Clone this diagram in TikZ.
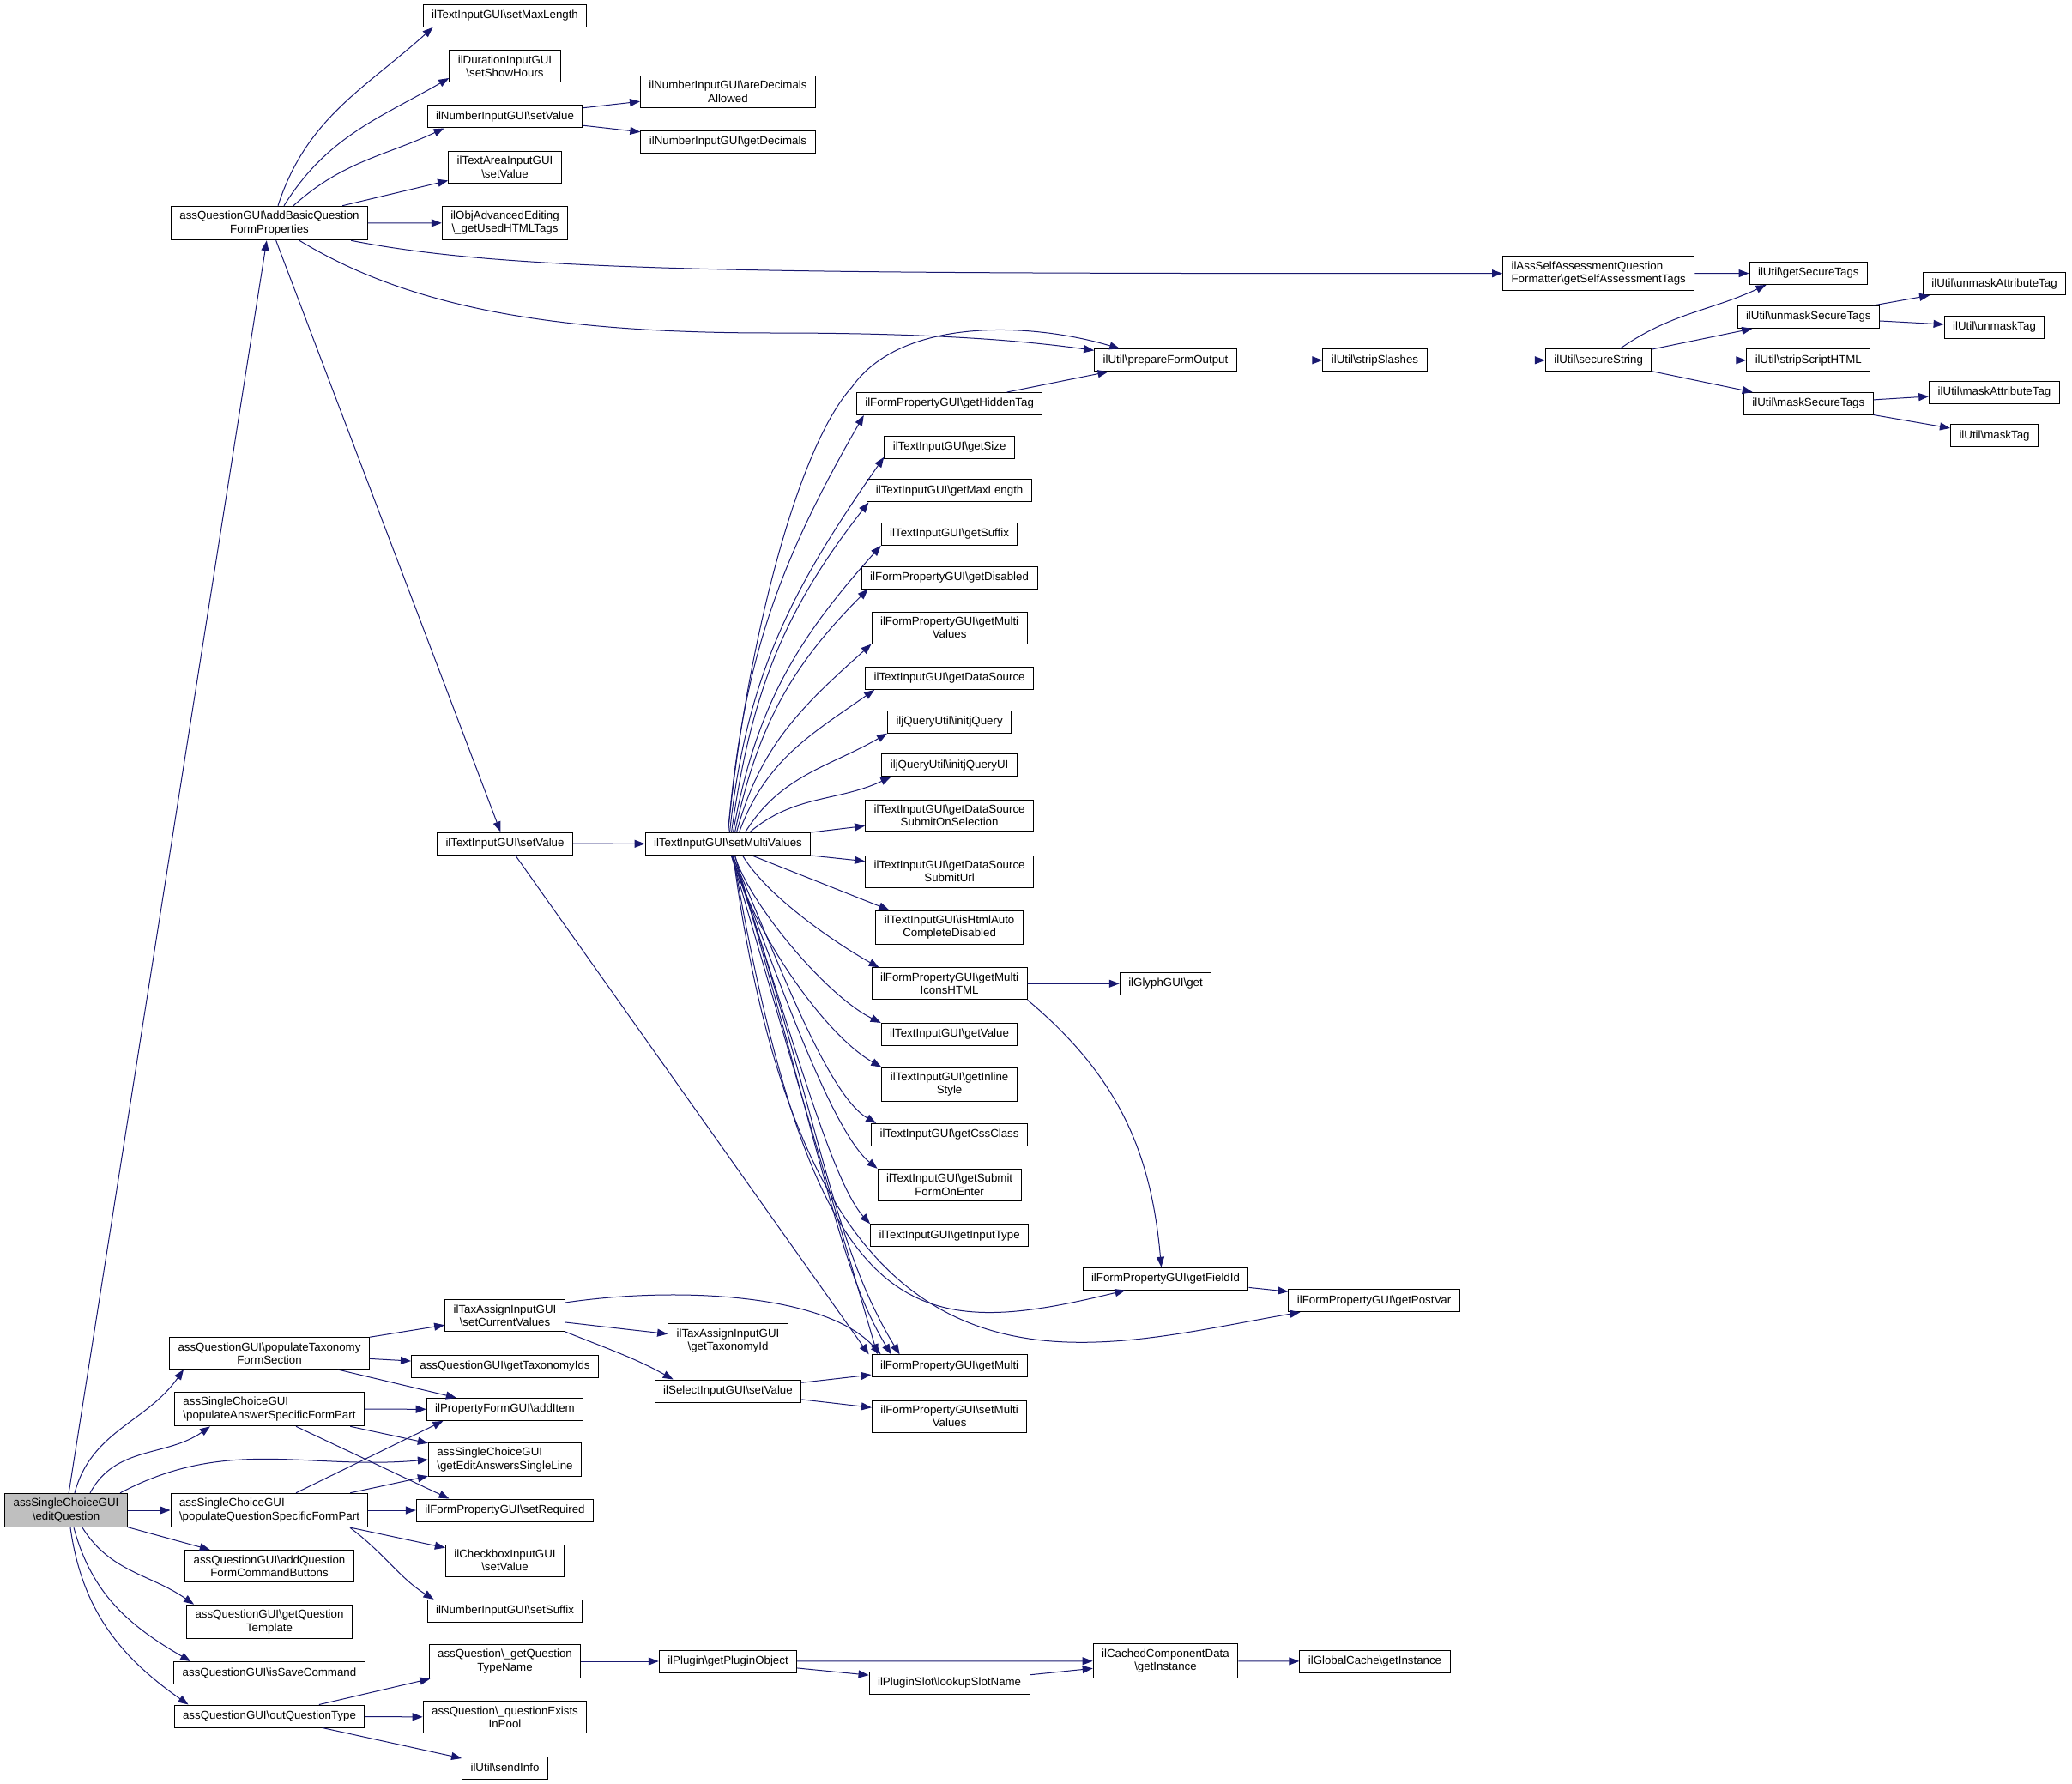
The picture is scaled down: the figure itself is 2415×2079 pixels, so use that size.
\documentclass[tikz,border=0pt]{standalone}
\usepackage{fontspec}
\setmainfont{Liberation Sans}
\usepackage{color}
\usetikzlibrary{arrows.meta}
\definecolor{edgeblue}{RGB}{25,25,112}
\newcommand{\bksl}{\textbackslash}
\tikzset{
  fn/.style={draw=black, fill=white, line width=1pt, inner xsep=10pt, inner ysep=6pt,
    minimum height=26pt, align=center, font=\fontsize{13.3}{15.2}\selectfont},
  fnl/.style={fn, align=left},
  call/.style={draw=edgeblue, line width=1pt, -{Triangle[length=12pt,width=9pt]}}
}
\begin{document}
\begin{tikzpicture}[x=1pt,y=1pt]
    \useasboundingbox (0,0) rectangle (2415,-2079);
    \node [fn, fill=black!25] (editQ) at (77,-1760) {assSingleChoiceGUI\\\bksl editQuestion};
    \node [fn] (addBasic) at (314,-260) {assQuestionGUI\bksl addBasicQuestion\\FormProperties};
    \node [fn] (popTax) at (314,-1577) {assQuestionGUI\bksl populateTaxonomy\\FormSection};
    \node [fnl] (popAns) at (314,-1642) {assSingleChoiceGUI\\\bksl populateAnswerSpecificFormPart};
    \node [fnl] (popQue) at (314,-1760) {assSingleChoiceGUI\\\bksl populateQuestionSpecificFormPart};
    \node [fn] (addCmd) at (314,-1825) {assQuestionGUI\bksl addQuestion\\FormCommandButtons};
    \node [fn] (getTpl) at (314,-1890) {assQuestionGUI\bksl getQuestion\\Template};
    \node [fn] (isSave) at (314,-1949.5) {assQuestionGUI\bksl isSaveCommand};
    \node [fn] (outQT) at (314,-2000) {assQuestionGUI\bksl outQuestionType};

    \node [fn] (setMaxLen) at (588.5,-18.3) {ilTextInputGUI\bksl setMaxLength};
    \node [fn] (setShowHours) at (588.5,-77) {ilDurationInputGUI\\\bksl setShowHours};
    \node [fn] (numSetValue) at (588.5,-136) {ilNumberInputGUI\bksl setValue};
    \node [fn] (areaSetValue) at (588.5,-194.7) {ilTextAreaInputGUI\\\bksl setValue};
    \node [fn] (usedTags) at (588.5,-259.8) {ilObjAdvancedEditing\\\bksl\_getUsedHTMLTags};
    \node [fn] (textSetValue) at (588.5,-983) {ilTextInputGUI\bksl setValue};
    \node [fn] (setCurVal) at (588.5,-1533) {ilTaxAssignInputGUI\\\bksl setCurrentValues};
    \node [fn] (getTaxIds) at (588.5,-1592) {assQuestionGUI\bksl getTaxonomyIds};
    \node [fn] (addItem) at (588.5,-1642.4) {ilPropertyFormGUI\bksl addItem};
    \node [fnl] (editAnswers) at (588.5,-1701) {assSingleChoiceGUI\\\bksl getEditAnswersSingleLine};
    \node [fn] (setRequired) at (588.5,-1760) {ilFormPropertyGUI\bksl setRequired};
    \node [fn] (boxSetValue) at (588.5,-1818.5) {ilCheckboxInputGUI\\\bksl setValue};
    \node [fn] (setSuffix) at (588.5,-1877.3) {ilNumberInputGUI\bksl setSuffix};
    \node [fn] (typeName) at (588.5,-1936) {assQuestion\bksl\_getQuestion\\TypeName};
    \node [fn] (existsInPool) at (588.5,-2001.3) {assQuestion\bksl\_questionExists\\InPool};
    \node [fn] (sendInfo) at (588.5,-2060) {ilUtil\bksl sendInfo};

    \node [fn] (areDecimals) at (848.5,-106.7) {ilNumberInputGUI\bksl areDecimals\\Allowed};
    \node [fn] (getDecimals) at (848.5,-165.2) {ilNumberInputGUI\bksl getDecimals};
    \node [fn] (setMulti) at (848.5,-983.5) {ilTextInputGUI\bksl setMultiValues};
    \node [fn] (getTaxId) at (848.5,-1562.5) {ilTaxAssignInputGUI\\\bksl getTaxonomyId};
    \node [fn] (selSetValue) at (848.5,-1621) {ilSelectInputGUI\bksl setValue};
    \node [fn] (pluginObj) at (848.5,-1936) {ilPlugin\bksl getPluginObject};

    \node [fn] (hiddenTag) at (1106.6,-470.5) {ilFormPropertyGUI\bksl getHiddenTag};
    \node [fn] (getSize) at (1106.6,-521.2) {ilTextInputGUI\bksl getSize};
    \node [fn] (getMaxLen) at (1106.6,-571.9) {ilTextInputGUI\bksl getMaxLength};
    \node [fn] (getSuffix) at (1106.6,-622.4) {ilTextInputGUI\bksl getSuffix};
    \node [fn] (getDisabled) at (1106.6,-673) {ilFormPropertyGUI\bksl getDisabled};
    \node [fn] (multiValues) at (1106.6,-731.6) {ilFormPropertyGUI\bksl getMulti\\Values};
    \node [fn] (dataSource) at (1106.6,-790.5) {ilTextInputGUI\bksl getDataSource};
    \node [fn] (initQuery) at (1106.6,-841.2) {iljQueryUtil\bksl initjQuery};
    \node [fn] (initQueryUI) at (1106.6,-891.9) {iljQueryUtil\bksl initjQueryUI};
    \node [fn] (srcOnSel) at (1106.6,-950.5) {ilTextInputGUI\bksl getDataSource\\SubmitOnSelection};
    \node [fn] (srcUrl) at (1106.6,-1015.6) {ilTextInputGUI\bksl getDataSource\\SubmitUrl};
    \node [fn] (autoComplete) at (1106.6,-1080.8) {ilTextInputGUI\bksl isHtmlAuto\\CompleteDisabled};
    \node [fn] (iconsHTML) at (1106.6,-1146.4) {ilFormPropertyGUI\bksl getMulti\\IconsHTML};
    \node [fn] (getValue) at (1106.6,-1205.4) {ilTextInputGUI\bksl getValue};
    \node [fn] (inlineStyle) at (1106.6,-1263.9) {ilTextInputGUI\bksl getInline\\Style};
    \node [fn] (cssClass) at (1106.6,-1322.4) {ilTextInputGUI\bksl getCssClass};
    \node [fn] (formOnEnter) at (1106.6,-1380.8) {ilTextInputGUI\bksl getSubmit\\FormOnEnter};
    \node [fn] (inputType) at (1106.6,-1439.7) {ilTextInputGUI\bksl getInputType};
    \node [fn] (getMulti) at (1106.6,-1591.8) {ilFormPropertyGUI\bksl getMulti};
    \node [fn] (setMultiFP) at (1106.6,-1650.6) {ilFormPropertyGUI\bksl setMulti\\Values};
    \node [fn] (slotName) at (1106.6,-1961.3) {ilPluginSlot\bksl lookupSlotName};

    \node [fn] (formOutput) at (1358.5,-419.8) {ilUtil\bksl prepareFormOutput};
    \node [fn] (glyphGet) at (1358.5,-1146.2) {ilGlyphGUI\bksl get};
    \node [fn] (fieldId) at (1358.5,-1490.2) {ilFormPropertyGUI\bksl getFieldId};
    \node [fn] (cacheInst) at (1358.5,-1935.7) {ilCachedComponentData\\\bksl getInstance};

    \node [fn] (stripSlashes) at (1602.5,-419.8) {ilUtil\bksl stripSlashes};
    \node [fn] (postVar) at (1601.6,-1515.7) {ilFormPropertyGUI\bksl getPostVar};
    \node [fn] (globalInst) at (1602.5,-1936) {ilGlobalCache\bksl getInstance};

    \node [fnl] (selfFormatter) at (1863.2,-318.7) {ilAssSelfAssessmentQuestion\\Formatter\bksl getSelfAssessmentTags};
    \node [fn] (secureString) at (1863.2,-419.8) {ilUtil\bksl secureString};

    \node [fn] (secureTags) at (2107.8,-318.5) {ilUtil\bksl getSecureTags};
    \node [fn] (unmaskSecure) at (2107.8,-369.5) {ilUtil\bksl unmaskSecureTags};
    \node [fn] (stripScript) at (2107.8,-419.8) {ilUtil\bksl stripScriptHTML};
    \node [fn] (maskSecure) at (2107.8,-470.5) {ilUtil\bksl maskSecureTags};

    \node [fn] (unmaskAttr) at (2324.5,-330.7) {ilUtil\bksl unmaskAttributeTag};
    \node [fn] (unmaskTag) at (2324.5,-381.2) {ilUtil\bksl unmaskTag};
    \node [fn] (maskAttr) at (2324.5,-457.3) {ilUtil\bksl maskAttributeTag};
    \node [fn] (maskTag) at (2324.5,-507.8) {ilUtil\bksl maskTag};

    \draw [call] (editQ) -- (addBasic);
    \draw [call] ([xshift=10pt]editQ.north) to[out=75,in=235] ([xshift=17pt]popTax.south west);
    \draw [call] ([xshift=28pt]editQ.north) to[out=62,in=215] ([xshift=42pt]popAns.south west);
    \draw [call] ([xshift=63pt]editQ.north) to[out=28,in=185] (editAnswers.west);
    \draw [call] (editQ) -- (popQue);
    \draw [call] (editQ) -- (addCmd);
    \draw [call] ([xshift=19pt]editQ.south) to[out=-58,in=145] ([xshift=9pt]getTpl.north west);
    \draw [call] ([xshift=9pt]editQ.south) to[out=-75,in=150] ([xshift=20pt]isSave.north west);
    \draw [call] ([xshift=5pt]editQ.south) to[out=-82,in=145] ([xshift=17pt]outQT.north west);

    \draw [call] ([xshift=10pt]addBasic.north) to[out=72,in=222] ([xshift=12pt]setMaxLen.south west);
    \draw [call] ([xshift=17pt]addBasic.north) to[out=58,in=210] ([yshift=5pt]setShowHours.south west);
    \draw [call] ([xshift=28pt]addBasic.north) to[out=42,in=205] ([xshift=20pt]numSetValue.south west);
    \draw [call] (addBasic) -- (areaSetValue);
    \draw [call] (addBasic) -- (usedTags);
    \draw [call] ([xshift=-20pt]addBasic.south east) .. controls (600,-318) and (900,-318.7) .. (selfFormatter.west);
    \draw [call] ([xshift=35pt]addBasic.south) .. controls (480,-360) and (650,-388) .. (900,-388)
        .. controls (1100,-388) and (1200,-398) .. ([yshift=-2pt]formOutput.north west);
    \draw [call] (addBasic) -- (textSetValue);
    \draw [call] (numSetValue) -- (areDecimals);
    \draw [call] (numSetValue) -- (getDecimals);

    \draw [call] (textSetValue) -- (setMulti);
    \draw [call] ([xshift=12pt]textSetValue.south) -- ([xshift=-94pt]getMulti.north);

    \draw [call] (setMulti.north) .. controls (870,-750) and (930,-520) .. (993,-451)
        .. controls (1050,-370) and (1200,-375) .. ([xshift=30pt]formOutput.north west);
    \draw [call] (setMulti.north) to[out=85,in=240] ([xshift=9pt]hiddenTag.south west);
    \draw [call] ([xshift=2pt]setMulti.north) to[out=84,in=235] ([yshift=2pt]getSize.south west);
    \draw [call] ([xshift=4pt]setMulti.north) to[out=82,in=232] ([xshift=2pt]getMaxLen.south west);
    \draw [call] ([xshift=6pt]setMulti.north) to[out=80,in=228] (getSuffix.south west);
    \draw [call] ([xshift=8pt]setMulti.north) to[out=78,in=225] ([xshift=8pt]getDisabled.south west);
    \draw [call] ([xshift=10pt]setMulti.north) to[out=75,in=222] (multiValues.south west);
    \draw [call] ([xshift=13pt]setMulti.north) to[out=70,in=215] ([xshift=11pt]dataSource.south west);
    \draw [call] ([xshift=20pt]setMulti.north) to[out=58,in=210] (initQuery.south west);
    \draw [call] ([xshift=25pt]setMulti.north) to[out=40,in=205] ([xshift=11pt]initQueryUI.south west);
    \draw [call] (setMulti.north east) -- ([yshift=7pt]srcOnSel.south west);
    \draw [call] (setMulti.south east) -- ([yshift=-7pt]srcUrl.north west);
    \draw [call] ([xshift=28pt]setMulti.south) -- ([xshift=16pt]autoComplete.north west);
    \draw [call] ([xshift=17pt]setMulti.south) .. controls +(30,-50) and +(-45,25) .. ([xshift=9pt]iconsHTML.north west);
    \draw [call] ([xshift=8pt]setMulti.south) .. controls +(15,-53) and +(-65,32) .. (getValue.north west);
    \draw [call] ([xshift=5pt]setMulti.south) .. controls +(20,-80) and +(-70,40) .. (inlineStyle.north west);
    \draw [call] ([xshift=5pt]setMulti.south) .. controls +(45,-100) and +(-60,35) .. ([xshift=6pt]cssClass.north west);
    \draw [call] ([xshift=4pt]setMulti.south) .. controls +(50,-130) and +(-55,45) .. (formOnEnter.north west);
    \draw [call] ([xshift=4pt]setMulti.south) .. controls +(55,-150) and +(-50,55) .. (inputType.north west);
    \draw [call] ([xshift=6pt]setMulti.south) .. controls (950,-1550) and (1060,-1565) .. ([xshift=50pt]fieldId.south west);
    \draw [call] ([xshift=6pt]setMulti.south) .. controls (945,-1680) and (1250,-1575) .. ([xshift=14pt]postVar.south west);
    \draw [call] (setMulti) -- ([xshift=-84pt]getMulti.north);
    \draw [call] ([xshift=8pt]setMulti.south) .. controls +(110,-380) and +(-60,100) .. ([xshift=-68pt]getMulti.north);
    \draw [call] ([xshift=6pt]setMulti.south) .. controls +(100,-300) and +(-80,130) .. ([xshift=-58pt]getMulti.north);

    \draw [call] (hiddenTag) -- (formOutput);
    \draw [call] (formOutput) -- (stripSlashes);
    \draw [call] (stripSlashes) -- (secureString);
    \draw [call] ([xshift=25pt]secureString.north) to[out=35,in=205] ([xshift=20pt]secureTags.south west);
    \draw [call] (secureString) -- (unmaskSecure);
    \draw [call] (secureString) -- (stripScript);
    \draw [call] (secureString) -- (maskSecure);
    \draw [call] (unmaskSecure) -- (unmaskAttr);
    \draw [call] (unmaskSecure) -- (unmaskTag);
    \draw [call] (maskSecure) -- (maskAttr);
    \draw [call] (maskSecure) -- (maskTag);
    \draw [call] (selfFormatter) -- (secureTags);
    \draw [call] (iconsHTML) -- (glyphGet);
    \draw [call] (iconsHTML.south east) to[out=-40,in=95] ([xshift=-5pt]fieldId.north);
    \draw [call] (fieldId) -- (postVar);

    \draw [call] (popTax) -- (setCurVal);
    \draw [call] (popTax) -- (getTaxIds);
    \draw [call] (popTax) -- (addItem);
    \draw [call] (popAns) -- (addItem);
    \draw [call] (popAns) -- (editAnswers);
    \draw [call] ([xshift=31pt]popAns.south) -- ([xshift=-65pt]setRequired.north);
    \draw [call] ([xshift=31pt]popQue.north) -- ([xshift=-72pt]addItem.south);
    \draw [call] (popQue) -- (editAnswers);
    \draw [call] (popQue) -- (setRequired);
    \draw [call] (popQue) -- (boxSetValue);
    \draw [call] ([xshift=94pt]popQue.south) .. controls +(40,-30) and +(-40,25) .. ([xshift=8pt]setSuffix.north west);
    \draw [call] ([yshift=15pt]setCurVal.east) .. controls (780,-1500) and (960,-1505) .. ([xshift=-80pt]getMulti.north);
    \draw [call] (setCurVal) -- (getTaxId);
    \draw [call] (setCurVal.south east) .. controls +(50,-20) and +(-45,25) .. ([xshift=22pt]selSetValue.north west);
    \draw [call] (selSetValue) -- (getMulti);
    \draw [call] (selSetValue) -- (setMultiFP);
    \draw [call] (outQT) -- (typeName);
    \draw [call] (outQT) -- (existsInPool);
    \draw [call] (outQT) -- (sendInfo);
    \draw [call] (typeName) -- (pluginObj);
    \draw [call] (pluginObj) -- (cacheInst);
    \draw [call] (pluginObj) -- (slotName);
    \draw [call] (slotName) -- (cacheInst);
    \draw [call] (cacheInst) -- (globalInst);
\end{tikzpicture}
\end{document}
